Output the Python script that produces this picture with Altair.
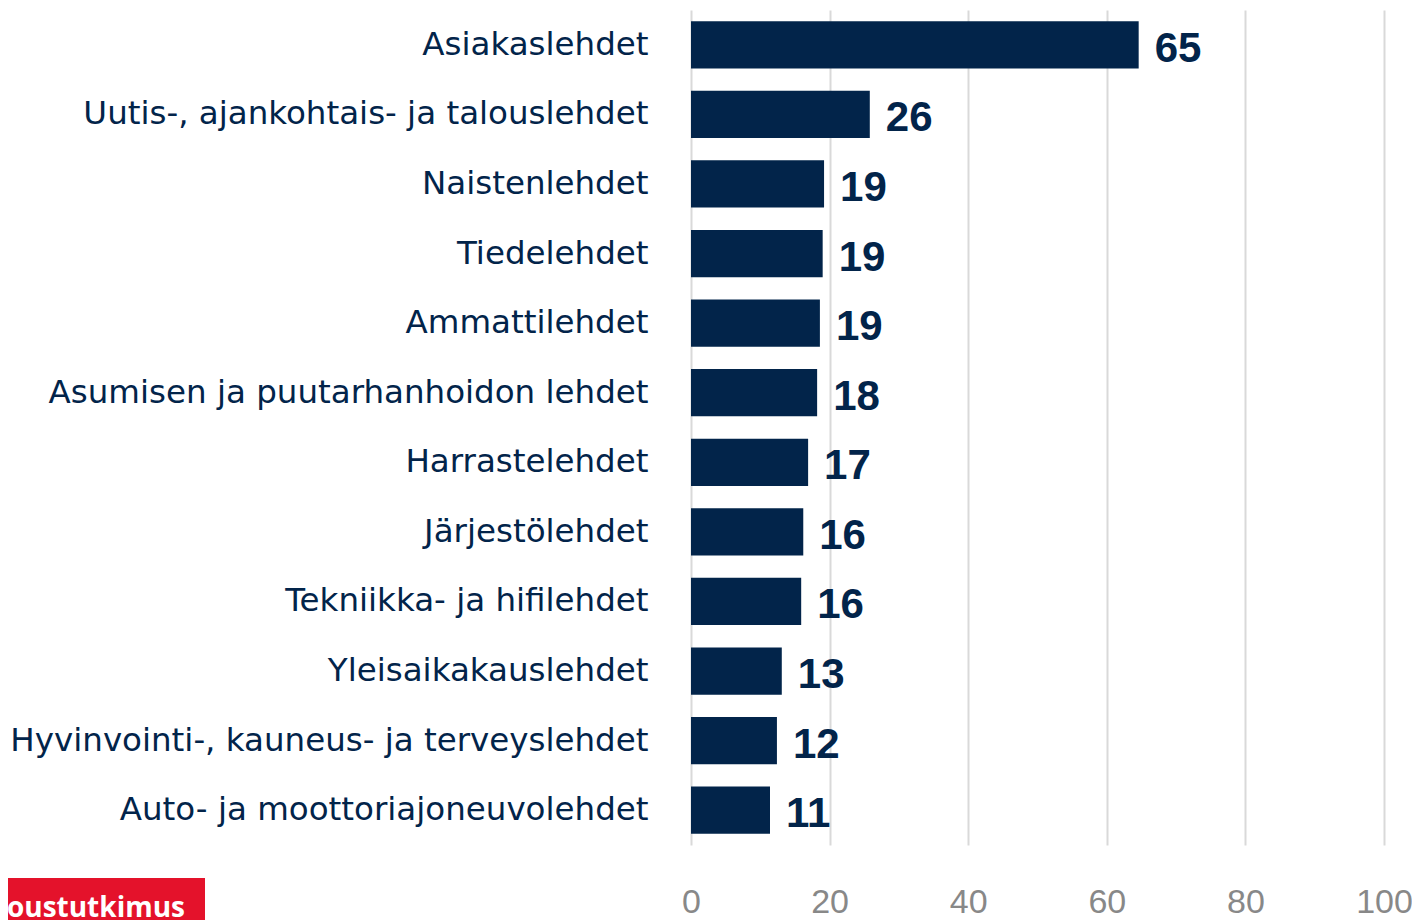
import altair as alt
import pandas as pd

categories = [
    "Asiakaslehdet",
    "Uutis-, ajankohtais- ja talouslehdet",
    "Naistenlehdet",
    "Tiedelehdet",
    "Ammattilehdet",
    "Asumisen ja puutarhanhoidon lehdet",
    "Harrastelehdet",
    "Järjestölehdet",
    "Tekniikka- ja hifilehdet",
    "Yleisaikakauslehdet",
    "Hyvinvointi-, kauneus- ja terveyslehdet",
    "Auto- ja moottoriajoneuvolehdet",
]
values = [64.6, 25.8, 19.2, 19.0, 18.6, 18.2, 16.9, 16.2, 15.9, 13.1, 12.4, 11.4]
labels = ["65", "26", "19", "19", "19", "18", "17", "16", "16", "13", "12", "11"]
x_ticks = [0, 20, 40, 60, 80, 100]
logo_text = ["Taloustutkimus"]

NAVY = "#02244a"
FONT = "Liberation Sans"

df = pd.DataFrame({"cat": categories, "val": values, "lab": labels})

y_enc = alt.Y(
    "cat:N",
    sort=categories,
    title=None,
    scale=alt.Scale(paddingInner=0.32, paddingOuter=0.16),
    axis=alt.Axis(
        labelFont="DejaVu Sans",
        labelFontSize=32.5,
        labelColor=NAVY,
        labelPadding=43,
        labelLimit=900,
        ticks=False,
        domain=False,
        grid=False,
    ),
)
x_enc = alt.X(
    "val:Q",
    title=None,
    scale=alt.Scale(domain=[0, 100], nice=False),
    axis=alt.Axis(
        values=x_ticks,
        labelFont=FONT,
        labelFontSize=34,
        labelColor="#888888",
        labelPadding=40,
        labelFlush=False,
        ticks=False,
        domain=False,
        grid=True,
        gridColor="#d9d9d9",
        gridWidth=2,
    ),
)

base = alt.Chart(df)
bars = base.mark_bar(color=NAVY).encode(x=x_enc, y=y_enc)
text = base.mark_text(
    align="left", baseline="middle", dx=16, dy=4,
    font=FONT, fontSize=42, fontWeight="bold", color=NAVY,
).encode(x="val:Q", y=alt.Y("cat:N", sort=categories), text="lab:N")

logo_df = pd.DataFrame({"t": logo_text})
logo_box = alt.Chart(logo_df).mark_rect(color="#e4122b").encode(
    x=alt.value(-690), x2=alt.value(-486), y=alt.value(868), y2=alt.value(912)
)
logo_label = alt.Chart(logo_df).mark_text(
    align="right", baseline="alphabetic", font="Open Sans", fontSize=28,
    fontWeight="bold", color="white",
).encode(x=alt.value(-506), y=alt.value(907), text="t:N")

chart = alt.layer(bars, text, logo_box, logo_label).properties(
    width=693,
    height=835,
    autosize=alt.AutoSizeParams(type="none"),
    padding={"left": 683, "top": 2, "right": 28, "bottom": 75},
).configure_view(stroke=None)

chart.save("out.html", embed_options={"renderer": "svg", "actions": False})
